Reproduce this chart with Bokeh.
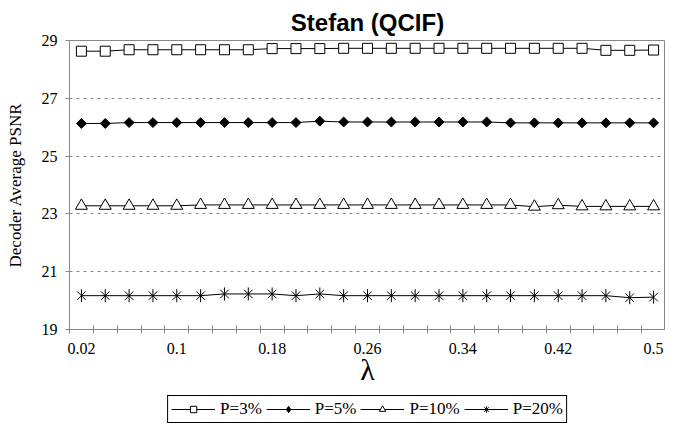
import math
from bokeh.plotting import figure
from bokeh.layouts import column
from bokeh.models import FixedTicker, Legend, LegendItem
from bokeh.embed import file_html
from bokeh.resources import INLINE

# ---- data ----
lam = [0.02, 0.04, 0.06, 0.08, 0.10, 0.12, 0.14, 0.16, 0.18, 0.20, 0.22, 0.24, 0.26,
       0.28, 0.30, 0.32, 0.34, 0.36, 0.38, 0.40, 0.42, 0.44, 0.46, 0.48, 0.50]
p3 = [28.63, 28.63, 28.68, 28.68, 28.68, 28.68, 28.68, 28.68, 28.72, 28.72, 28.72, 28.73, 28.73,
      28.73, 28.73, 28.73, 28.73, 28.73, 28.73, 28.73, 28.73, 28.73, 28.66, 28.66, 28.67]
p5 = [26.13, 26.13, 26.16, 26.16, 26.16, 26.16, 26.16, 26.16, 26.16, 26.16, 26.21, 26.18, 26.18,
      26.18, 26.18, 26.18, 26.18, 26.18, 26.15, 26.15, 26.15, 26.15, 26.15, 26.15, 26.15]
p10 = [23.28, 23.28, 23.28, 23.28, 23.28, 23.31, 23.31, 23.31, 23.31, 23.31, 23.31, 23.31, 23.31,
       23.31, 23.31, 23.31, 23.31, 23.31, 23.31, 23.25, 23.30, 23.26, 23.26, 23.26, 23.26]
p20 = [20.17, 20.17, 20.17, 20.17, 20.17, 20.17, 20.23, 20.23, 20.23, 20.17, 20.23, 20.17, 20.17,
       20.17, 20.17, 20.17, 20.17, 20.17, 20.17, 20.17, 20.17, 20.17, 20.17, 20.10, 20.12]
series_names = ["P=3%", "P=5%", "P=10%", "P=20%"]
x_tick_values = [0.02, 0.1, 0.18, 0.26, 0.34, 0.42, 0.5]
x_tick_labels = ["0.02", "0.1", "0.18", "0.26", "0.34", "0.42", "0.5"]
y_ticks = [19, 21, 23, 25, 27, 29]

GRAY = "#888888"
SERIF = "Liberation Serif"

half = (lam[1] - lam[0]) / 2
p = figure(width=665, height=394, output_backend="svg", toolbar_location=None,
           x_range=(lam[0] - half, lam[-1] + half), y_range=(y_ticks[0], y_ticks[-1]),
           min_border_left=62, min_border_right=0, min_border_top=40, min_border_bottom=65,
           title="Stefan (QCIF)")
p.title.text_font = "Liberation Sans"
p.title.text_font_size = "24px"
p.title.text_font_style = "bold"
p.title.text_color = "black"
p.title.align = "center"
p.title.standoff = 10
p.outline_line_color = GRAY
p.outline_line_width = 1

# x axis (category-like)
minor = [x - half for x in lam] + [lam[-1] + half]
xa = p.xaxis[0]
xa.ticker = FixedTicker(ticks=x_tick_values, minor_ticks=minor)
xa.major_label_overrides = {t: s for t, s in zip(x_tick_values, x_tick_labels)}
xa.major_tick_in = 0
xa.major_tick_out = 0
xa.minor_tick_in = 4
xa.minor_tick_out = 4
xa.minor_tick_line_color = GRAY
xa.axis_line_color = GRAY
xa.major_label_text_font = SERIF
xa.major_label_text_font_size = "16px"
xa.major_label_text_color = "black"
xa.major_label_standoff = 9
xa.axis_label = "λ"
xa.axis_label_text_font = SERIF
xa.axis_label_text_font_size = "30px"
xa.axis_label_text_font_style = "normal"
xa.axis_label_text_color = "black"
xa.axis_label_standoff = -4

ya = p.yaxis[0]
ya.ticker = FixedTicker(ticks=y_ticks, minor_ticks=[])
ya.major_tick_in = 0
ya.major_tick_out = 4
ya.major_tick_line_color = GRAY
ya.minor_tick_in = 0
ya.minor_tick_out = 0
ya.axis_line_color = GRAY
ya.major_label_text_font = SERIF
ya.major_label_text_font_size = "16px"
ya.major_label_text_color = "black"
ya.major_label_standoff = 8
ya.axis_label = "Decoder Average PSNR"
ya.axis_label_text_font = SERIF
ya.axis_label_text_font_size = "17px"
ya.axis_label_text_font_style = "normal"
ya.axis_label_text_color = "black"
ya.axis_label_standoff = 14

p.xgrid.visible = False
p.ygrid.ticker = FixedTicker(ticks=y_ticks[1:-1])
p.ygrid.grid_line_color = GRAY
p.ygrid.grid_line_dash = "3 4"
p.ygrid.grid_line_width = 1

# legend strip (separate small figure so the legend is not clipped)
lg = figure(width=665, height=30, output_backend="svg", toolbar_location=None,
            x_range=(0, 1), y_range=(0, 1),
            min_border_left=69, min_border_right=0, min_border_top=0, min_border_bottom=0)
lg.xaxis.visible = False
lg.yaxis.visible = False
lg.xgrid.visible = False
lg.ygrid.visible = False
lg.outline_line_color = None


def add_series(fig, vals, marker_specs):
    rs = [fig.line(lam, vals, line_color="black", line_width=1)]
    for spec in marker_specs:
        rs.append(fig.scatter(lam, vals, line_color="black", line_width=1, **spec))
    return rs


plot_specs = [
    [dict(marker="square", size=10, fill_color="white")],
    [dict(marker="square", angle=math.pi / 4, size=7, fill_color="black")],
    [dict(marker="triangle", size=12, fill_color="white")],
    [dict(marker="x", size=12), dict(marker="dash", angle=math.pi / 2, size=13)],
]
legend_specs = [
    [dict(marker="square", size=10, fill_color="white")],
    [dict(marker="diamond", size=12, fill_color="black")],
    [dict(marker="triangle", size=11, fill_color="white")],
    [dict(marker="asterisk", size=14)],
]
all_vals = [p3, p5, p10, p20]

items = []
for name, vals, ps, ls in zip(series_names, all_vals, plot_specs, legend_specs):
    add_series(p, vals, ps)
    rs = add_series(lg, vals, ls)  # data lie outside lg's ranges; only legend glyphs show
    items.append(LegendItem(label=name, renderers=rs))

legend = Legend(items=items, orientation="horizontal", location="center",
                label_text_font=SERIF, label_text_font_size="17px", label_text_color="black",
                glyph_width=44, glyph_height=16, label_height=18, label_standoff=5,
                spacing=4, padding=3, margin=0,
                border_line_color="black", border_line_width=1, border_line_alpha=1,
                background_fill_color="white", background_fill_alpha=1)
lg.add_layout(legend)

layout = column(p, lg, spacing=0)
open("out.html", "w").write(file_html(layout, INLINE))
